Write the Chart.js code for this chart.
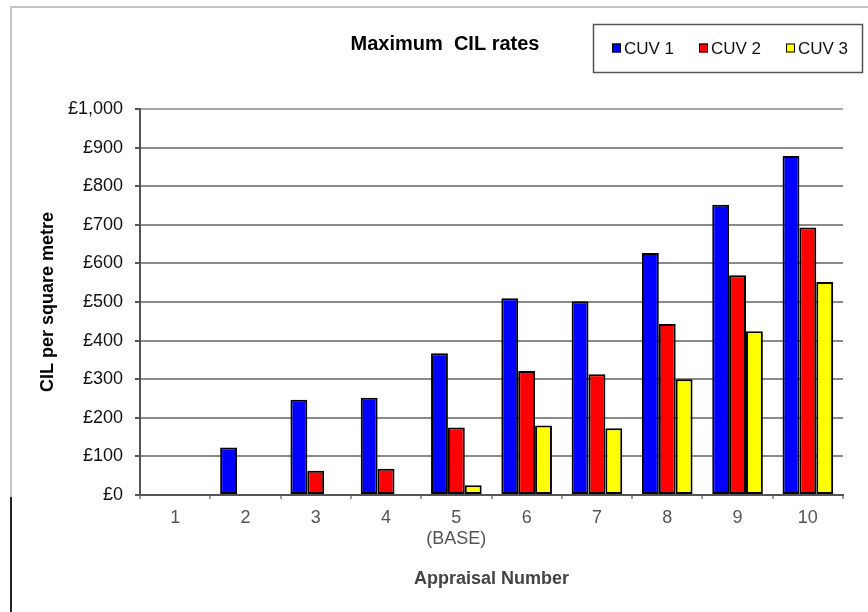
<!DOCTYPE html>
<html>
<head>
<meta charset="utf-8">
<title>Maximum CIL rates</title>
<script src="https://cdn.jsdelivr.net/npm/chart.js@4/dist/chart.umd.min.js"></script>
<style>
  html, body { margin: 0; padding: 0; background: #ffffff; }
  canvas { display: block; }
</style>
</head>
<body>
<canvas id="cil" width="868" height="612"></canvas>
<script>
// Appraisal numbers along the x axis (appraisal 5 is the base case)
const appraisals = ['1', '2', '3', '4', ['5', '(BASE)'], '6', '7', '8', '9', '10'];

// Maximum CIL rate (£ per square metre) for each charging use value band
const seriesNames = ['CUV 1', 'CUV 2', 'CUV 3'];
const cuv1 = [0, 123, 247, 252, 367, 510, 502, 627, 752, 878];
const cuv2 = [0, 0, 63, 68, 175, 321, 313, 443, 569, 693];
const cuv3 = [0, 0, 0, 0, 25, 180, 173, 300, 424, 552];
const seriesColors = ['#0000ff', '#ff0000', '#ffff00'];

// Y axis range and step (£)
const yMin = 0;
const yMax = 1000;
const yStep = 100;

const chartTitle = 'Maximum  CIL rates';
const yTitle = 'CIL per square metre';
const xTitle = 'Appraisal Number';

const FONT = "Arial, 'Liberation Sans', Helvetica, sans-serif";

function poundLabel(v) {
  return '£' + String(v).replace(/\B(?=(\d{3})+(?!\d))/g, ',');
}

// Outer frame of the chart object
const framePlugin = {
  id: 'frame',
  beforeDraw(chart) {
    const ctx = chart.ctx;
    ctx.save();
    ctx.fillStyle = '#ffffff';
    ctx.fillRect(0, 0, chart.width, chart.height);
    ctx.lineWidth = 2;
    ctx.strokeStyle = '#c4c4c4';
    ctx.beginPath();
    ctx.moveTo(11, chart.height);
    ctx.lineTo(11, 7);
    ctx.lineTo(chart.width, 7);
    ctx.stroke();
    ctx.strokeStyle = '#222222';
    ctx.beginPath();
    ctx.moveTo(11, 497);
    ctx.lineTo(11, chart.height);
    ctx.stroke();
    ctx.restore();
  }
};

// Title and boxed legend in the header row
const headerPlugin = {
  id: 'header',
  afterDraw(chart) {
    const ctx = chart.ctx;
    ctx.save();
    ctx.fillStyle = '#000000';
    ctx.font = 'bold 20px ' + FONT;
    ctx.textAlign = 'center';
    ctx.textBaseline = 'middle';
    ctx.fillText(chartTitle, 445, 44);

    // legend box
    ctx.lineWidth = 1.5;
    ctx.strokeStyle = '#555555';
    ctx.strokeRect(593.5, 24.5, 269, 48);

    ctx.font = '17px ' + FONT;
    ctx.textAlign = 'left';
    const starts = [612, 699, 786];
    chart.data.datasets.forEach((ds, i) => {
      const x = starts[i];
      const y = 48;
      ctx.fillStyle = ds.backgroundColor;
      ctx.fillRect(x, y - 4.5, 9, 9);
      ctx.lineWidth = 1;
      ctx.strokeStyle = '#000000';
      ctx.strokeRect(x + 0.5, y - 4, 8, 8);
      ctx.fillStyle = '#111111';
      ctx.fillText(ds.label, x + 12, y + 1);
    });
    ctx.restore();
  }
};

const datasets = [cuv1, cuv2, cuv3].map((values, i) => ({
  label: seriesNames[i],
  data: values,
  backgroundColor: seriesColors[i],
  borderColor: '#000000',
  borderWidth: 2,
  borderSkipped: false,
  categoryPercentage: 0.72,
  barPercentage: 1.0
}));

new Chart(document.getElementById('cil'), {
  type: 'bar',
  data: { labels: appraisals, datasets },
  plugins: [framePlugin, headerPlugin],
  options: {
    responsive: false,
    animation: false,
    devicePixelRatio: 1,
    layout: { padding: { left: 36, right: 25, top: 109, bottom: 20 } },
    plugins: {
      legend: { display: false },
      title: { display: false },
      tooltip: { enabled: false }
    },
    scales: {
      x: {
        afterFit(scale) { scale.height = 97; },
        grid: {
          offset: true,
          drawOnChartArea: true,
          color: (c) => (c.index === appraisals.length ? '#8a8a8a' : 'rgba(0,0,0,0)'),
          lineWidth: 2,
          tickColor: '#9a9a9a',
          tickLength: 4
        },
        border: { color: '#555555', width: 2 },
        ticks: {
          color: '#555555',
          padding: 8,
          font: { family: FONT, size: 18, lineHeight: 1.2 }
        },
        title: {
          display: true,
          text: xTitle,
          color: '#444444',
          padding: { top: 0, bottom: 2 },
          font: { family: FONT, size: 18, weight: 'bold', lineHeight: 1.2 }
        }
      },
      y: {
        min: yMin,
        max: yMax,
        afterFit(scale) { scale.width = 104; },
        grid: {
          color: (c) => (c.tick && c.tick.value === yMax ? '#a8a8a8' : '#8a8a8a'),
          lineWidth: 2,
          tickColor: '#555555',
          tickLength: 5
        },
        border: { color: '#555555', width: 2 },
        ticks: {
          stepSize: yStep,
          color: '#111111',
          padding: 12,
          font: { family: FONT, size: 18 },
          callback: (v) => poundLabel(v)
        },
        title: {
          display: true,
          text: yTitle,
          color: '#000000',
          padding: { top: 1, bottom: 0 },
          font: { family: FONT, size: 18, weight: 'bold', lineHeight: 1.2 }
        }
      }
    }
  }
});
</script>
</body>
</html>
